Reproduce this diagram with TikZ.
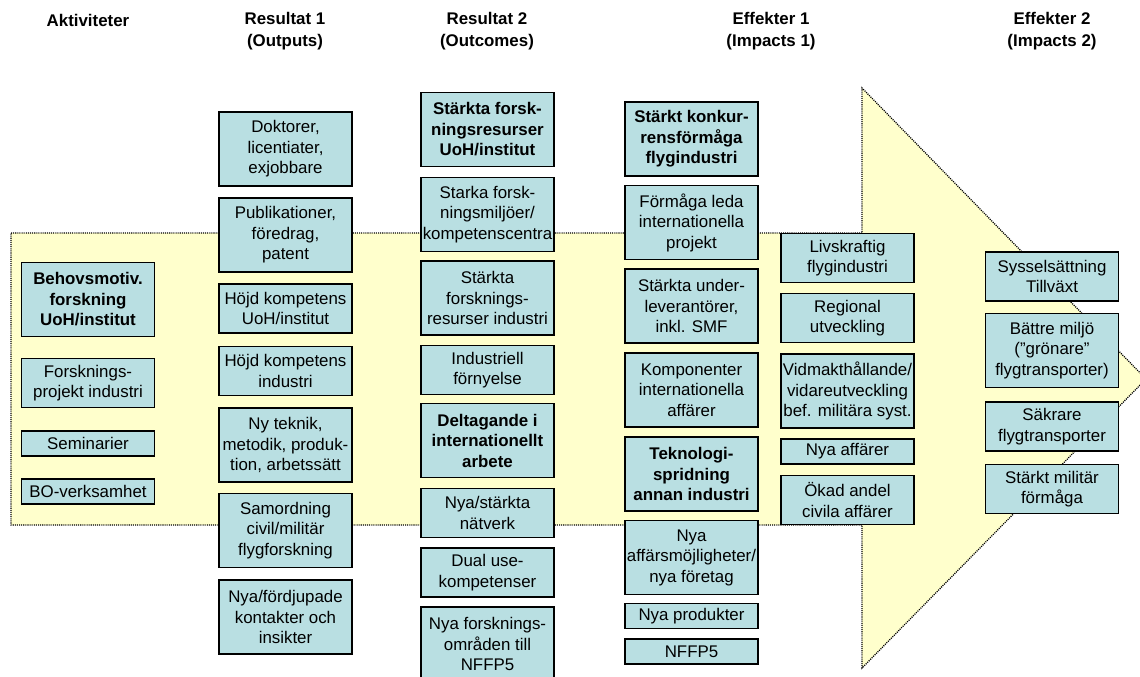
\documentclass[tikz,border=0pt]{standalone}
\usepackage{fontspec}
\setmainfont{Liberation Sans}
\definecolor{boxfill}{RGB}{185,223,226}
\definecolor{arrowfill}{RGB}{255,255,204}
\tikzstyle{effectbox} = [draw,line width=0.9pt,fill=boxfill,align=center,inner sep=1pt,minimum width=3.325cm,font=\fontsize{12}{14.6}\selectfont]
\tikzstyle{boldbox} = [font=\fontsize{12}{14.6}\selectfont\bfseries]
\tikzstyle{oneline} = [minimum height=0.625cm]
\tikzstyle{twoline} = [minimum height=1.23cm]
\tikzstyle{threeline} = [minimum height=1.85cm]
\tikzstyle{heading} = [align=center,font=\fontsize{12}{15.6}\selectfont\bfseries]

\begin{document}
\begin{tikzpicture}[x=0.025cm,y=-0.025cm]
	\useasboundingbox (0,0) rectangle (1140,677);

	% stora pilen i bakgrunden
	\draw[fill=arrowfill,line width=0.9pt,dash pattern=on 0.75pt off 0.75pt]
		(11,233) -- (862,233) -- (862,88) -- (1146,379) -- (862,668) -- (862,525) -- (11,525) -- cycle;

	\node[heading] (hAkt) at (88,20) {Aktiviteter};
	\node[heading] (hRes1) at (285,31) {Resultat 1\\(Outputs)};
	\node[heading] (hRes2) at (487,31) {Resultat 2\\(Outcomes)};
	\node[heading] (hEff1) at (771,31) {Effekter 1\\(Impacts 1)};
	\node[heading] (hEff2) at (1052,31) {Effekter 2\\(Impacts 2)};

	% Aktiviteter
	\node[effectbox,boldbox,threeline] (a1) at (88,299.5) {Behovsmotiv.\\forskning\\UoH/institut};
	\node[effectbox,twoline] (a2) at (88,383) {Forsknings-\\projekt industri};
	\node[effectbox,oneline] (a3) at (88,443.5) {Seminarier};
	\node[effectbox,oneline] (a4) at (88,491.5) {BO-verksamhet};

	% Resultat 1
	\node[effectbox,threeline] (o1) at (285.5,149) {Doktorer,\\licentiater,\\exjobbare};
	\node[effectbox,threeline] (o2) at (285.5,235) {Publikationer,\\föredrag,\\patent};
	\node[effectbox,twoline] (o3) at (285.5,308.5) {Höjd kompetens\\UoH/institut};
	\node[effectbox,twoline] (o4) at (285.5,371) {Höjd kompetens\\industri};
	\node[effectbox,threeline] (o5) at (285.5,445) {Ny teknik,\\metodik, produk-\\tion, arbetssätt};
	\node[effectbox,threeline] (o6) at (285.5,530.5) {Samordning\\civil/militär\\flygforskning};
	\node[effectbox,threeline] (o7) at (285.5,617) {Nya/fördjupade\\kontakter och\\insikter};

	% Resultat 2
	\node[effectbox,boldbox,threeline] (u1) at (487.5,129.5) {Stärkta forsk-\\ningsresurser\\UoH/institut};
	\node[effectbox,threeline] (u2) at (487.5,214.5) {Starka forsk-\\ningsmiljöer/\\kompetenscentra};
	\node[effectbox,threeline] (u3) at (487.5,298) {Stärkta\\forsknings-\\resurser industri};
	\node[effectbox,twoline] (u4) at (487.5,370) {Industriell\\förnyelse};
	\node[effectbox,boldbox,threeline] (u5) at (487.5,440.5) {Deltagande i\\internationellt\\arbete};
	\node[effectbox,twoline] (u6) at (487.5,513) {Nya/stärkta\\nätverk};
	\node[effectbox,twoline] (u7) at (487.5,572.5) {Dual use-\\kompetenser};
	\node[effectbox,threeline] (u8) at (487.5,644) {Nya forsknings-\\områden till\\NFFP5};

	% Effekter 1
	\node[effectbox,boldbox,threeline] (e1) at (691.5,139) {Stärkt konkur-\\rensförmåga\\flygindustri};
	\node[effectbox,threeline] (e2) at (691.5,222.5) {Förmåga leda\\internationella\\projekt};
	\node[effectbox,threeline] (e3) at (691.5,306) {Stärkta under-\\leverantörer,\\inkl. SMF};
	\node[effectbox,threeline] (e4) at (691.5,390) {Komponenter\\internationella\\affärer};
	\node[effectbox,boldbox,threeline] (e5) at (691.5,474) {Teknologi-\\spridning\\annan industri};
	\node[effectbox,threeline] (e6) at (691.5,557.5) {Nya\\affärsmöjligheter/\\nya företag};
	\node[effectbox,oneline] (e7) at (691.5,616) {Nya produkter};
	\node[effectbox,oneline] (e8) at (691.5,651.5) {NFFP5};

	\node[effectbox,twoline] (f1) at (847.5,258) {Livskraftig\\flygindustri};
	\node[effectbox,twoline] (f2) at (847.5,318) {Regional\\utveckling};
	\node[effectbox,threeline] (f3) at (847.5,391) {Vidmakthållande/\\vidareutveckling\\bef. militära syst.};
	\node[effectbox,oneline] (f4) at (847.5,451.5) {Nya affärer};
	\node[effectbox,twoline] (f5) at (847.5,500) {Ökad andel\\civila affärer};

	% Effekter 2
	\node[effectbox,twoline] (g1) at (1052,276.5) {Sysselsättning\\Tillväxt};
	\node[effectbox,threeline] (g2) at (1052,350.5) {Bättre miljö\\(”grönare”\\flygtransporter)};
	\node[effectbox,twoline] (g3) at (1052,426.5) {Säkrare\\flygtransporter};
	\node[effectbox,twoline] (g4) at (1052,489) {Stärkt militär\\förmåga};
\end{tikzpicture}
\end{document}
